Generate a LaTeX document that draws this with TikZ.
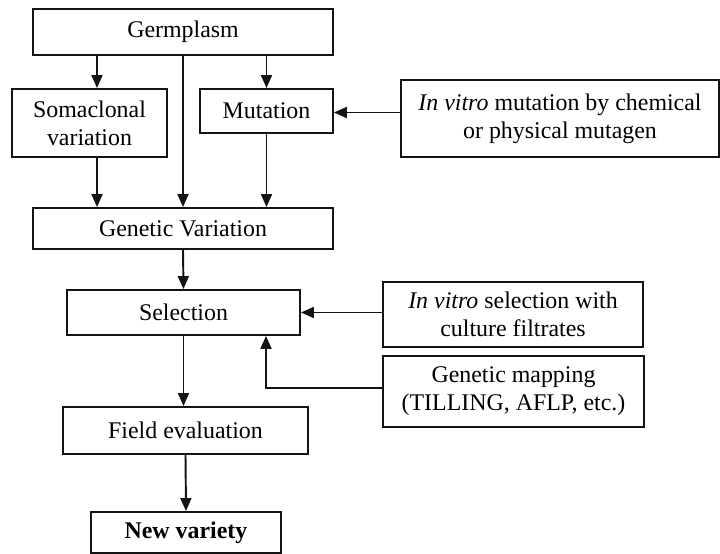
\documentclass[tikz,border=0pt]{standalone}
\usepackage{fontspec}
\setmainfont{Liberation Serif}
\usepackage{tikz}
\usetikzlibrary{arrows.meta, positioning, calc}
\definecolor{mydark}{RGB}{20,20,20}
\tikzset{
  stagebox/.style={rectangle, draw=mydark, fill=white, inner sep=0pt,
    align=center, line width=1.1pt,
    font=\fontsize{13.6pt}{16pt}\selectfont},
  arrow/.style={-{Triangle[length=0.26cm, width=0.22cm]}, line width=1.1pt, color=mydark}
}

\begin{document}
\begin{tikzpicture}[x=0.02cm, y=-0.02cm]
  \useasboundingbox (0,0) rectangle (720,554);

  % Top: germplasm and its sources of variation
  \node[stagebox, minimum width=6cm, minimum height=0.92cm] (germ) at (183,32) {Germplasm};
  \node[stagebox, minimum width=3.1cm, minimum height=1.36cm] (soma) at (89.5,123) {Somaclonal\\variation};
  \node[stagebox, minimum width=2.66cm, minimum height=0.88cm] (mut) at (266.5,111) {Mutation};
  \node[stagebox, minimum width=6.36cm, minimum height=1.54cm] (mutagen) at (560,118.5) {\textit{In vitro} mutation by chemical\\or physical mutagen};

  % Middle: variation and selection
  \node[stagebox, minimum width=6cm, minimum height=0.82cm] (genvar) at (183,228.5) {Genetic Variation};
  \node[stagebox, minimum width=4.66cm, minimum height=0.9cm] (sel) at (183.5,312.5) {Selection};
  \node[stagebox, minimum width=5.2cm, minimum height=1.3cm] (filtrate) at (513,314.5) {\textit{In vitro} selection with\\culture filtrates};
  \node[stagebox, minimum width=5.22cm, minimum height=1.42cm] (genmap) at (513.5,391.5) {Genetic mapping\\(TILLING, AFLP, etc.)};

  % Bottom: evaluation and release
  \node[stagebox, minimum width=4.9cm, minimum height=0.94cm] (field) at (185.5,430.5) {Field evaluation};
  \node[stagebox, minimum width=3.8cm, minimum height=0.82cm] (newvar) at (186,532.5) {\textbf{New variety}};

  \coordinate (somax) at (97,0);
  \coordinate (mapx) at (266,0);

  % Germplasm paths
  \draw[arrow] (germ.south -| somax) -- (soma.north -| somax);
  \draw[arrow] (germ.south) -- (genvar.north);
  \draw[arrow] (germ.south -| mut.north) -- (mut.north);
  \draw[arrow] ([yshift=-0.03cm]mutagen.west |- mut.east) -- ([yshift=-0.03cm]mut.east);
  \draw[arrow] (soma.south -| somax) -- (genvar.north -| somax);
  \draw[arrow] (mut.south) -- (genvar.north -| mut.south);

  % Selection and outputs
  \draw[arrow] (genvar.south) -- (sel.north);
  \draw[arrow] (filtrate.west |- sel.east) -- (sel.east);
  \draw[arrow] ([yshift=0.07cm]genmap.west) -| (sel.south -| mapx);
  \draw[arrow] (sel.south) -- (sel.south |- field.north);
  \draw[arrow] (field.south) -- (newvar.north);
\end{tikzpicture}
\end{document}
